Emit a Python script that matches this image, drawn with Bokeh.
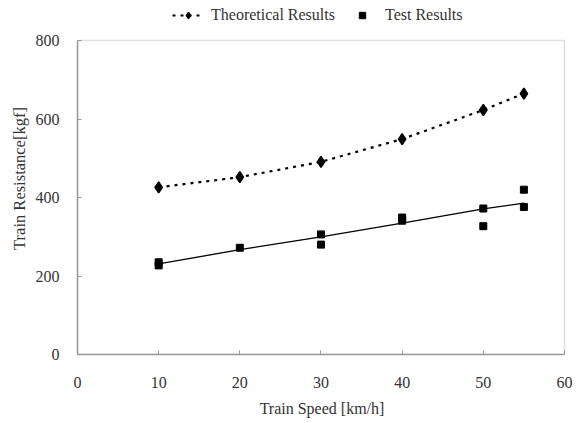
from bokeh.plotting import figure
from bokeh.models import Legend, LegendItem, Range1d, SingleIntervalTicker, BoxAnnotation
from bokeh.embed import file_html
from bokeh.resources import INLINE

# Data
speed_theory = [10, 20, 30, 40, 50, 55]
resistance_theory = [426, 452, 491, 549, 623, 665]

speed_test = [10, 10, 20, 30, 30, 40, 40, 50, 50, 55, 55]
resistance_test = [235, 227, 272, 306, 280, 349, 341, 372, 327, 420, 376]

speed_fit = [10, 20, 30, 40, 50, 55]
resistance_fit = [231, 267, 300, 335, 371, 386]

X_MIN, X_MAX = 0, 60
Y_MIN, Y_MAX = 0, 800

FONT = "Liberation Serif"
TXT = "#333333"
FRAME = "#999999"

# the frame extends above the 0-800 box to leave room for the legend on top
p = figure(width=585, height=423, output_backend="svg", toolbar_location=None,
           x_range=Range1d(X_MIN, 60.25), y_range=Range1d(Y_MIN, 897),
           min_border_left=77, min_border_right=19, min_border_top=2, min_border_bottom=69)

p.outline_line_color = None

# grid
p.xgrid.grid_line_color = None
p.ygrid.grid_line_color = "#888888"
p.ygrid.grid_line_dash = "3 3"
p.ygrid.grid_line_width = 1
p.ygrid.bounds = (X_MIN, X_MAX)

for ax in (p.xaxis[0], p.yaxis[0]):
    ax.axis_line_color = FRAME
    ax.axis_line_width = 1.5
    ax.major_tick_line_color = FRAME
    ax.major_tick_in = 4
    ax.major_tick_out = 0
    ax.minor_tick_line_color = None
    ax.major_label_text_font = FONT
    ax.major_label_text_font_size = "16px"
    ax.major_label_text_color = TXT
    ax.axis_label_text_font = FONT
    ax.axis_label_text_font_style = "normal"
    ax.axis_label_text_color = TXT

p.xaxis.bounds = (X_MIN, X_MAX)
p.yaxis.bounds = (Y_MIN, Y_MAX)
p.xaxis.ticker = SingleIntervalTicker(interval=10)
p.yaxis.ticker = SingleIntervalTicker(interval=200)
p.xaxis.axis_label = "Train Speed [km/h]"
p.yaxis.axis_label = "Train Resistance[kgf]"
p.xaxis.axis_label_text_font_size = "16px"
p.yaxis.axis_label_text_font_size = "16.5px"
p.xaxis.major_label_standoff = 18
p.yaxis.major_label_standoff = 14
p.xaxis.axis_label_standoff = 9
p.yaxis.axis_label_standoff = 4

# plot box
p.add_layout(BoxAnnotation(left=X_MIN, right=X_MAX, bottom=Y_MIN, top=Y_MAX,
                           fill_alpha=0, line_color=FRAME, line_width=1.5))

# theoretical
l1 = p.line(speed_theory, resistance_theory, line_color="black", line_width=2.2, line_dash="3 5")
m1 = p.scatter(speed_theory, resistance_theory, marker="diamond", size=11, line_width=1.5,
               fill_color="black", line_color="black")

# fit line
p.line(speed_fit, resistance_fit, line_color="black", line_width=1.3)

# test
m2 = p.scatter(speed_test, resistance_test, marker="square", size=7,
               fill_color="black", line_color="black")

legend = Legend(items=[LegendItem(label="Theoretical Results", renderers=[l1, m1]),
                       LegendItem(label="Test Results", renderers=[m2])],
                orientation="horizontal", location=(95, 330),
                padding=0, margin=0, spacing=11, glyph_width=32, glyph_height=16,
                label_standoff=7, border_line_alpha=0, background_fill_alpha=0,
                label_text_font=FONT, label_text_font_size="16px", label_text_color=TXT)
p.add_layout(legend)

open("out.html", "w").write(file_html(p, INLINE))
